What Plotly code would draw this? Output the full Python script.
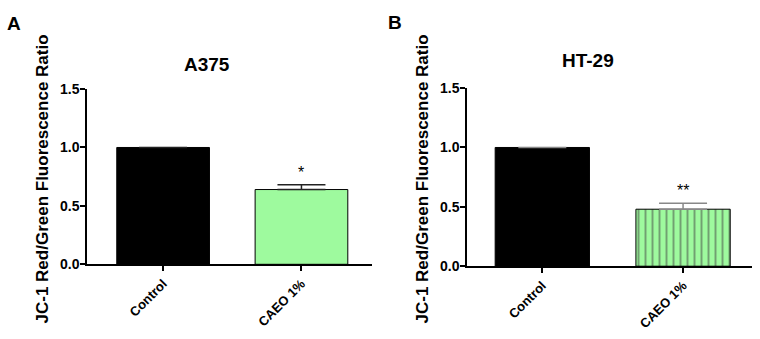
import plotly.graph_objects as go

categories = ["Control", "CAEO 1%"]
a375_values = [1.0, 0.64]
a375_err = [0.0, 0.04]
ht29_values = [1.0, 0.48]
ht29_err = [0.0, 0.05]
y_ticks = [0.0, 0.5, 1.0, 1.5]
a375_sig = ["", "*"]
ht29_sig = ["", "**"]

FONT = "Liberation Sans, Arial, sans-serif"
GREEN = "#9efa9e"

fig = go.Figure()

fig.add_trace(go.Bar(
    x=categories, y=a375_values, xaxis="x", yaxis="y", width=0.67,
    marker=dict(color=["#000000", GREEN], line=dict(color="#000000", width=1)),
    error_y=dict(type="data", array=a375_err, arrayminus=[0, 0], symmetric=False,
                 color="#222222", thickness=1.5, width=24),
    showlegend=False,
))
fig.add_trace(go.Bar(
    x=categories, y=ht29_values, xaxis="x2", yaxis="y2", width=0.67,
    marker=dict(color=["#000000", GREEN], line=dict(color="#000000", width=1),
                pattern=dict(shape=["", "|"], fgcolor="#000000", bgcolor=GREEN,
                             size=7, solidity=0.28)),
    error_y=dict(type="data", array=ht29_err, arrayminus=[0, 0], symmetric=False,
                 color="#888888", thickness=1.5, width=24),
    showlegend=False,
))

axis_common = dict(showgrid=False, zeroline=False, showline=True, linecolor="#000000",
                   linewidth=1.5, ticks="outside", ticklen=5, tickwidth=1.5,
                   tickcolor="#000000")
xtf = dict(size=13, family=FONT, weight="bold", color="#000000")
ytf = dict(size=14, family=FONT, weight="bold", color="#000000")

fig.update_layout(
    width=760, height=339, margin=dict(l=0, r=0, t=0, b=0),
    paper_bgcolor="white", plot_bgcolor="white",
    font=dict(family=FONT, color="#000000"),
    xaxis=dict(domain=[0.1145, 0.4895], range=[-0.55, 1.51], anchor="y",
               tickangle=-45, tickfont=xtf, **axis_common),
    yaxis=dict(domain=[0.2065, 0.749], range=[0, 1.5], anchor="x",
               tickvals=y_ticks, tickformat=".1f", tickfont=ytf,
               ticklabelstandoff=-2, **axis_common),
    xaxis2=dict(domain=[0.6145, 0.9895], range=[-0.535, 1.49], anchor="y2",
                tickangle=-45, tickfont=xtf, **axis_common),
    yaxis2=dict(domain=[0.2006, 0.752], range=[0, 1.5], anchor="x2",
                tickvals=y_ticks, tickformat=".1f", tickfont=ytf,
                ticklabelstandoff=-2, **axis_common),
)

def paper_note(text, px, py, size, angle=0):
    return dict(text=text, x=px / 760, y=1 - py / 339, xref="paper", yref="paper",
                xanchor="center", yanchor="middle", showarrow=False,
                textangle=angle, font=dict(size=size, family=FONT, color="#000000"))

annotations = [
    paper_note("<b>A</b>", 14, 16, 19),
    paper_note("<b>B</b>", 395, 15, 19),
    paper_note("<b>A375</b>", 207, 59, 19),
    paper_note("<b>HT-29</b>", 588, 55, 19),
    paper_note("<b>JC-1 Red/Green Fluorescence Ratio</b>", 43, 180, 17, -90),
    paper_note("<b>JC-1 Red/Green Fluorescence Ratio</b>", 423, 180, 17, -90),
]
for cat, v, e, s in zip(categories, a375_values, a375_err, a375_sig):
    if s:
        annotations.append(dict(text=s, x=cat, y=v + e, xref="x", yref="y",
                                xanchor="center", yanchor="bottom", yshift=2,
                                showarrow=False, font=dict(size=16, color="#000000")))
for cat, v, e, s in zip(categories, ht29_values, ht29_err, ht29_sig):
    if s:
        annotations.append(dict(text=s, x=cat, y=v + e, xref="x2", yref="y2",
                                xanchor="center", yanchor="bottom", yshift=2,
                                showarrow=False, font=dict(size=16, color="#000000")))
fig.update_layout(annotations=annotations)

fig.write_html("out.html")
